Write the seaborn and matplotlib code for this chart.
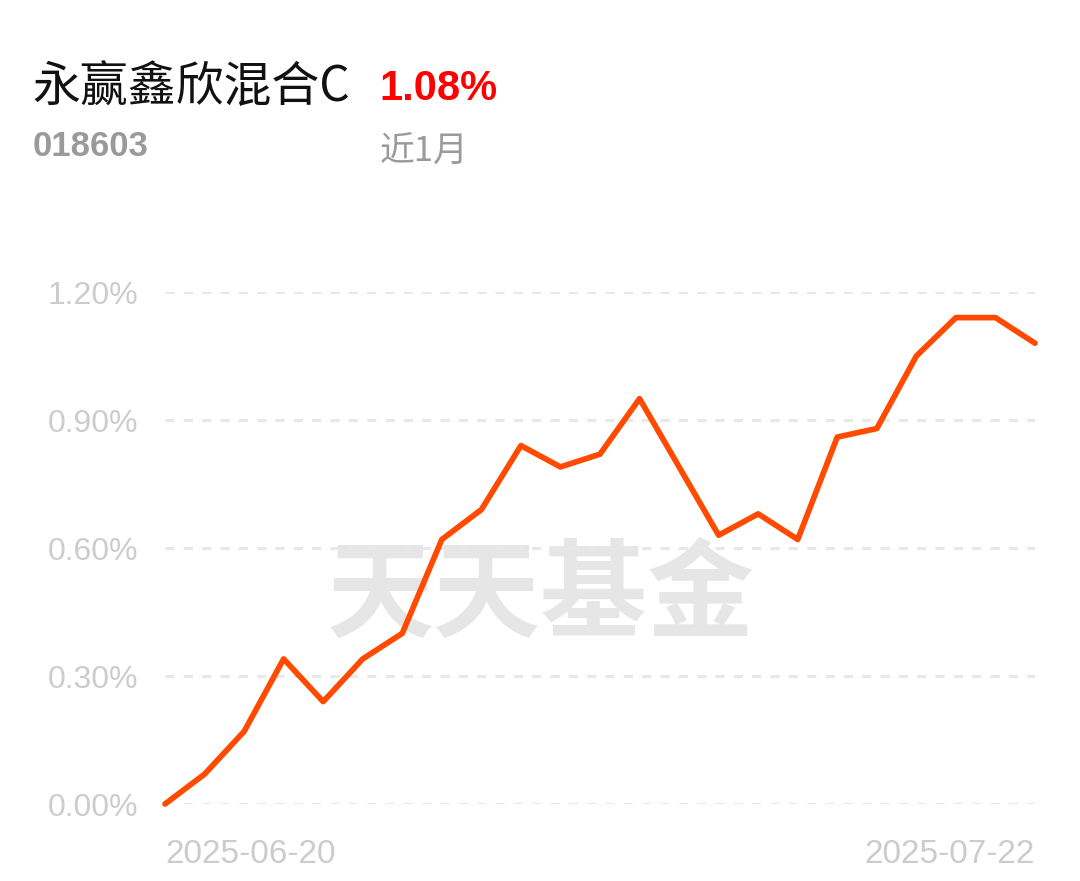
import matplotlib
matplotlib.use("Agg")
import matplotlib.pyplot as plt
import seaborn as sns
import pandas as pd

dates = ["2025-06-20", "2025-06-23", "2025-06-24", "2025-06-25", "2025-06-26", "2025-06-27",
         "2025-06-30", "2025-07-01", "2025-07-02", "2025-07-03", "2025-07-04",
         "2025-07-07", "2025-07-08", "2025-07-09", "2025-07-10", "2025-07-11",
         "2025-07-14", "2025-07-15", "2025-07-16", "2025-07-17", "2025-07-18",
         "2025-07-21", "2025-07-22"]
returns = [0.00, 0.07, 0.17, 0.34, 0.24, 0.34, 0.40, 0.62, 0.69, 0.84, 0.79, 0.82,
           0.95, 0.79, 0.63, 0.68, 0.62, 0.86, 0.88, 1.05, 1.14, 1.14, 1.08]
y_ticks = [0.0, 0.3, 0.6, 0.9, 1.2]
y_tick_labels = ["0.00%", "0.30%", "0.60%", "0.90%", "1.20%"]
fund_name = "永赢鑫欣混合C"
fund_code = "018603"
period_return = "1.08%"
period_label = "近1月"
watermark = "天天基金"

sns.set_theme(style="white")
plt.rcParams['font.family'] = ['Liberation Sans', 'Noto Sans CJK SC', 'DejaVu Sans']

W, H = 1080, 881
fig = plt.figure(figsize=(W / 100, H / 100), dpi=100)
fig.patch.set_facecolor("white")

def fx(px):
    return px / W

def fy(py):
    return 1 - py / H

ax = fig.add_axes([fx(165), fy(804), fx(1035) - fx(165), fy(292) - fy(804)])
ax.set_facecolor("none")

df = pd.DataFrame({"idx": range(len(returns)), "ret": returns})

# watermark (drawn inside the axes, beneath the line)
ax.text(fx(541), fy(597), watermark, ha="center", va="center", fontsize=77,
        fontweight="bold", color="#e6e6e6", family=["Noto Sans CJK SC"],
        transform=fig.transFigure, zorder=0.5, clip_on=False)

for yt in y_ticks:
    ax.axhline(yt, color="#e8e8e8", lw=2.2, ls=(0, (3, 3)), zorder=1)

sns.lineplot(data=df, x="idx", y="ret", ax=ax, color="#ff4a00", lw=4.1,
             solid_joinstyle="round", solid_capstyle="round", zorder=3, clip_on=False)

ax.set_xlim(0, len(returns) - 1)
ax.set_ylim(0, 1.2)
ax.set_yticks(y_ticks)
ax.set_yticklabels(y_tick_labels)
ax.set_xticks([0, len(returns) - 1])
ax.set_xticklabels([dates[0], dates[-1]])
xl = ax.get_xticklabels()
xl[0].set_horizontalalignment("left")
xl[1].set_horizontalalignment("right")
ax.tick_params(axis="y", length=0, pad=19, labelsize=23, labelcolor="#cccccc")
ax.tick_params(axis="x", length=0, pad=25, labelsize=24, labelcolor="#cccccc")
ax.set_xlabel("")
ax.set_ylabel("")
for s in ax.spines.values():
    s.set_visible(False)

# header texts
fig.text(fx(32), fy(87), fund_name, ha="left", va="center", fontsize=34.5,
         color="#111111", family=["Noto Sans CJK SC", "DejaVu Sans"])
fig.text(fx(379), fy(89), period_return, ha="left", va="center", fontsize=30,
         fontweight="bold", color="#ff0000", family=["Liberation Sans"])
fig.text(fx(33), fy(146), fund_code, ha="left", va="center", fontsize=25,
         fontweight="bold", color="#9a9a9a", family=["Liberation Sans"])
fig.text(fx(380), fy(152), period_label, ha="left", va="center", fontsize=25,
         color="#9a9a9a", family=["Noto Sans CJK SC"])

fig.savefig("out.png", dpi=100, facecolor="white")
